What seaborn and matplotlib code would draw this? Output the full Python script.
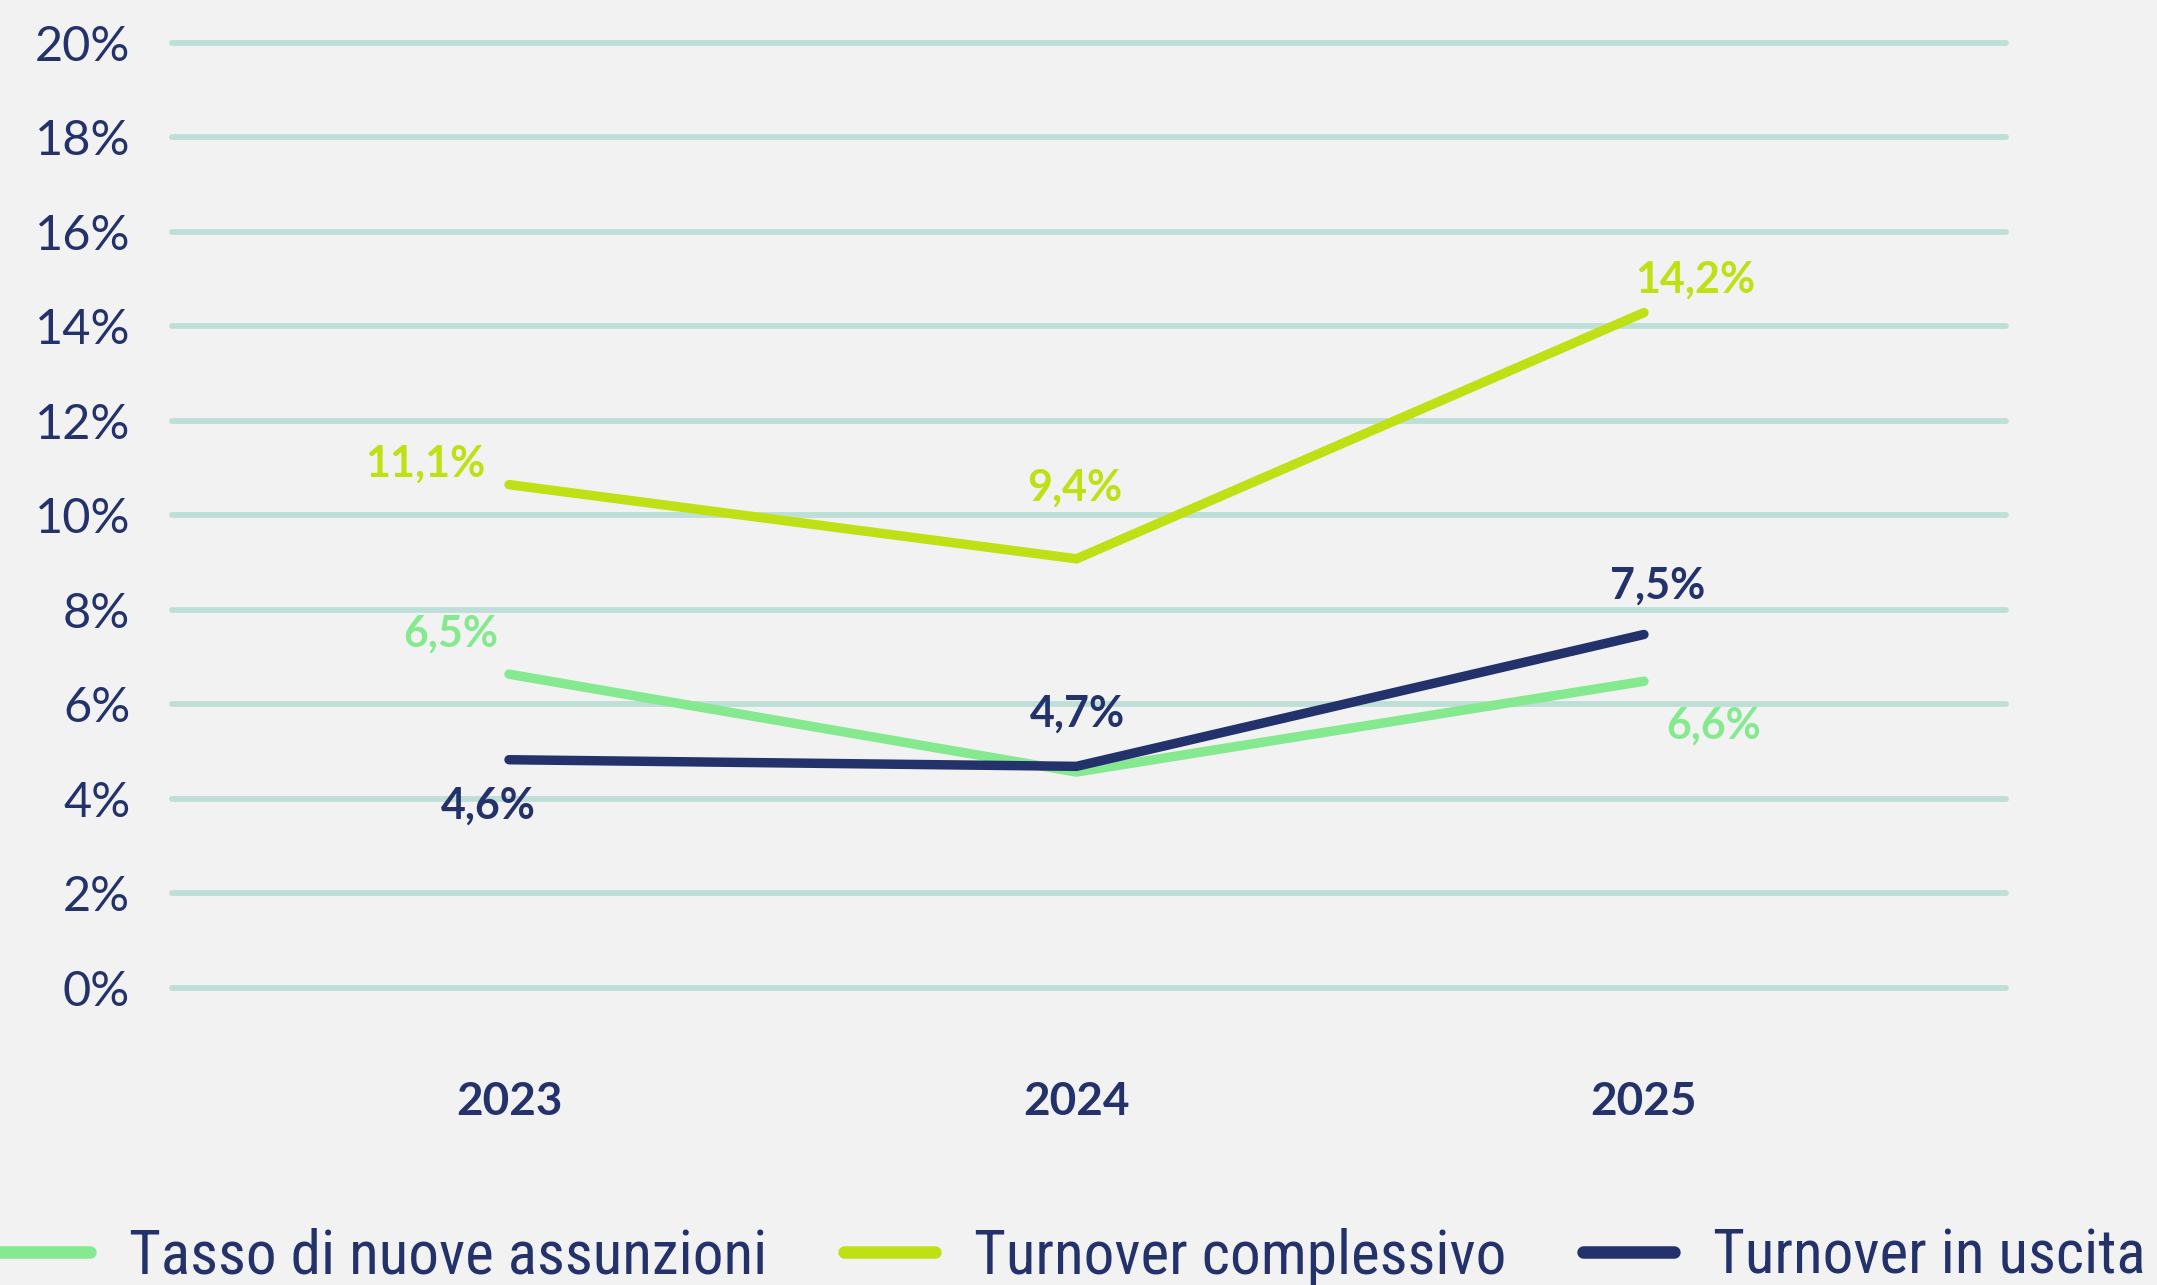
import matplotlib
matplotlib.use("Agg")
import matplotlib.pyplot as plt
import seaborn as sns
import pandas as pd
from matplotlib import font_manager
from matplotlib.lines import Line2D

years = ["2023", "2024", "2025"]
series_names = ["Tasso di nuove assunzioni", "Turnover complessivo", "Turnover in uscita"]
tasso_nuove = [6.64, 4.57, 6.49]
turnover_compl = [10.65, 9.08, 14.29]
turnover_uscita = [4.83, 4.69, 7.48]
labels_tasso = ["6,5%", None, "6,6%"]
labels_compl = ["11,1%", "9,4%", "14,2%"]
labels_uscita = ["4,6%", "4,7%", "7,5%"]
yticks = [0, 2, 4, 6, 8, 10, 12, 14, 16, 18, 20]

colors = ["#84e98f", "#bfe015", "#23326a"]
bg = "#f2f2f2"
grid_c = "#bddfd7"
navy = "#23326a"

sns.set_theme(style="white")

def pick(fams):
    for f in fams:
        try:
            font_manager.findfont(f, fallback_to_default=False)
            return f
        except Exception:
            pass
    return "DejaVu Sans"

main_font = pick(["Lato", "Open Sans", "DejaVu Sans"])
narrow_font = pick(["Liberation Sans Narrow", "Roboto Condensed", main_font])
plt.rcParams["font.family"] = [main_font, "DejaVu Sans"]

df = pd.DataFrame({
    "anno": years * 3,
    "valore": tasso_nuove + turnover_compl + turnover_uscita,
    "serie": [series_names[0]] * 3 + [series_names[1]] * 3 + [series_names[2]] * 3,
})

fig = plt.figure(figsize=(21.57, 12.85), dpi=100, facecolor=bg)
ax = fig.add_axes([0.0797, 0.2311, 0.8503, 0.7357])
ax.set_facecolor(bg)

sns.lineplot(data=df, x="anno", y="valore", hue="serie", palette=colors,
             hue_order=series_names, sort=False, linewidth=6.8, ax=ax,
             legend=False)
for ln in ax.get_lines():
    ln.set_solid_capstyle("round")
    ln.set_solid_joinstyle("miter")
    ln.set_zorder(3)

ax.set_xlim(-0.594, 2.638)
ax.set_ylim(0, 20)
ax.set_yticks(yticks)
ax.set_yticklabels([f"{v}%" for v in yticks], fontsize=35, color=navy)
ax.set_xticks(range(len(years)))
ax.set_xticklabels(years, fontsize=33, color=navy, fontweight="bold")
ax.tick_params(axis="y", length=0, pad=30)
ax.tick_params(axis="x", length=0, pad=67)
ax.set_xlabel("")
ax.set_ylabel("")
for s in ax.spines.values():
    s.set_visible(False)
for v in yticks:
    ax.axhline(v, color=grid_c, linewidth=4.2, zorder=1, clip_on=False)

offsets = {
    0: [(-42, 29), None, (50, -32)],
    1: [(-60, 15), (-1, 51), (37, 24)],
    2: [(-15, -33), (1, 38), (10, 35)],
}
all_vals = [tasso_nuove, turnover_compl, turnover_uscita]
all_labels = [labels_tasso, labels_compl, labels_uscita]
for si in range(3):
    for i in range(3):
        lab = all_labels[si][i]
        if lab is None:
            continue
        ax.annotate(lab, (i, all_vals[si][i]), xytext=offsets[si][i],
                    textcoords="offset points", ha="center", va="center",
                    fontsize=31, fontweight="bold", color=colors[si], zorder=5)

handles = [Line2D([0], [0], color=c, linewidth=9, solid_capstyle="round") for c in colors]
fig.legend(handles, series_names, loc="center", bbox_to_anchor=(0.497, 0.022),
           ncol=3, frameon=False, handlelength=1.5,
           handletextpad=0.63, columnspacing=1.25, labelcolor=navy,
           prop={"family": narrow_font, "size": 44})

fig.savefig("out.png", dpi=100, facecolor=bg)
